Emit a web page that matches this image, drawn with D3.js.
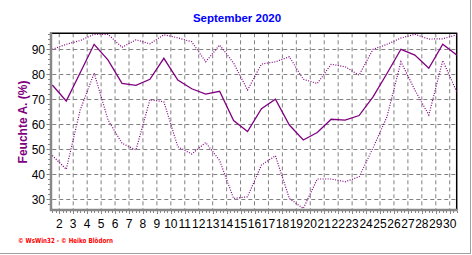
<!DOCTYPE html>
<html>
<head>
<meta charset="utf-8">
<script src="https://cdn.jsdelivr.net/npm/d3@7"></script>
<style>
html,body{margin:0;padding:0;background:#fff;}
svg{display:block;}
</style>
</head>
<body>
<svg id="chart" width="472" height="255"></svg>
<script>
// ---- data ----
const days = d3.range(1, 31);
const humMax = [90, 92, 93.5, 96, 96, 90.8, 93.8, 92.2, 95.8, 94.6, 93, 85, 91.7, 84.5, 73.7, 84.1, 85, 87, 78, 76.3, 84, 83, 79.7, 90, 92, 94.5, 96, 94.1, 94.2, 95.8];
const humMean = [75.7, 69.3, 80.6, 92, 85.7, 76.4, 75.6, 78, 86.4, 77.7, 74.2, 72.1, 73.2, 61.5, 57.1, 66.2, 70, 59.7, 53.7, 56.7, 62, 61.7, 63.5, 71, 80.3, 90, 87.7, 82.4, 92, 87.7];
const humMin = [47.5, 42, 65.7, 80.5, 61.7, 52.4, 49.7, 69.8, 69, 51, 48.1, 52.7, 45.5, 30.3, 31, 43.7, 47.4, 30.3, 26.3, 38.1, 38.1, 37, 39, 50.5, 63, 85, 73.7, 63.7, 85.5, 73];
const yTicks = [30, 40, 50, 60, 70, 80, 90];
const xTickLabels = d3.range(2, 31);
const yDomain = [26.1, 96.4];
const title = "September 2020";
const yLabel = "Feuchte A. (%)";
const footer = "\u00A9 WsWin32  -  \u00A9 Heiko Blödorn";

// ---- layout ----
const L = 52.3, R = 456.7, T = 33.3, B = 209;
const svg = d3.select("#chart");
const x = d3.scaleLinear().domain([1, 30]).range([L, R]);
const y = d3.scaleLinear().domain(yDomain).range([B, T]);
const purple = "#800080", grid = "#808080";

// gridlines
const gx = xTickLabels.map(d => d - 0.5);
svg.append("g").selectAll("line").data(gx).join("line")
  .attr("x1", d => x(d)).attr("x2", d => x(d))
  .attr("y1", T).attr("y2", B)
  .attr("stroke", grid).attr("stroke-width", 1).attr("stroke-dasharray", "4,3");
svg.append("g").selectAll("line").data(yTicks).join("line")
  .attr("x1", L).attr("x2", R)
  .attr("y1", d => Math.round(y(d)) + 0.5).attr("y2", d => Math.round(y(d)) + 0.5)
  .attr("stroke", grid).attr("stroke-width", 1).attr("stroke-dasharray", "4,3");

// frame top/right
svg.append("line").attr("x1", L - 2).attr("x2", R + 0.5).attr("y1", T).attr("y2", T)
  .attr("stroke", "#000").attr("stroke-width", 1.5);
svg.append("line").attr("x1", R).attr("x2", R).attr("y1", T).attr("y2", B + 1)
  .attr("stroke", "#000").attr("stroke-width", 1.5);

// lines
const line = d3.line().x((d, i) => x(days[i])).y(d => y(d));
svg.append("path").datum(humMax).attr("d", line).attr("fill", "none")
  .attr("stroke", purple).attr("stroke-width", 1.2).attr("stroke-dasharray", "1,1.5");
svg.append("path").datum(humMin).attr("d", line).attr("fill", "none")
  .attr("stroke", purple).attr("stroke-width", 1.2).attr("stroke-dasharray", "1,1.5");
svg.append("path").datum(humMean).attr("d", line).attr("fill", "none")
  .attr("stroke", purple).attr("stroke-width", 1.3);

// axes (gray)
svg.append("line").attr("x1", 51).attr("x2", 51).attr("y1", T - 1).attr("y2", B + 2)
  .attr("stroke", "#888").attr("stroke-width", 2.5);
svg.append("line").attr("x1", 50).attr("x2", R + 1).attr("y1", B + 1).attr("y2", B + 1)
  .attr("stroke", "#888").attr("stroke-width", 2.5);

// y ticks
const yMinor = d3.range(28, 97, 2);
svg.append("g").selectAll("line").data(yMinor).join("line")
  .attr("x1", d => (d % 10 === 0 ? 46.5 : 48)).attr("x2", 50)
  .attr("y1", d => Math.round(y(d)) + 0.5).attr("y2", d => Math.round(y(d)) + 0.5)
  .attr("stroke", "#888").attr("stroke-width", 1);
svg.append("g").selectAll("text").data(yTicks).join("text")
  .attr("x", 45).attr("y", d => y(d) + 4.5)
  .attr("text-anchor", "end")
  .attr("font-family", "Liberation Sans, Arial, sans-serif").attr("font-size", 12)
  .attr("fill", "#000").text(d => d);

// x ticks
const xMinor = d3.range(1, 30.01, 0.25);
svg.append("g").selectAll("line").data(xMinor).join("line")
  .attr("x1", d => Math.round(x(d)) + 0.5).attr("x2", d => Math.round(x(d)) + 0.5)
  .attr("y1", B + 2).attr("y2", d => (Math.abs((d % 1) - 0.5) < 0.01 ? B + 5 : B + 4))
  .attr("stroke", "#888").attr("stroke-width", 1);
svg.append("g").selectAll("text").data(xTickLabels).join("text")
  .attr("x", d => x(d - 0.5)).attr("y", 228)
  .attr("text-anchor", "middle")
  .attr("font-family", "Liberation Sans, Arial, sans-serif").attr("font-size", 12)
  .attr("fill", "#000").text(d => d);

// title
svg.append("text").attr("x", 237).attr("y", 22).attr("text-anchor", "middle")
  .attr("font-family", "Liberation Sans, Arial, sans-serif").attr("font-size", 11.5)
  .attr("font-weight", "bold").attr("fill", "#0000ff").text(title);

// y label
svg.append("text").attr("transform", "translate(26.5,122) rotate(-90)")
  .attr("text-anchor", "middle")
  .attr("font-family", "Liberation Sans, Arial, sans-serif").attr("font-size", 12)
  .attr("font-weight", "bold").attr("fill", purple).text(yLabel);

// footer
svg.append("text").attr("x", 18).attr("y", 242.5)
  .attr("font-family", "DejaVu Sans, sans-serif").attr("font-size", 7)
  .attr("font-weight", "bold").attr("fill", "#ff0000")
  .attr("textLength", 95).attr("lengthAdjust", "spacingAndGlyphs")
  .text(footer);

// panel border
svg.append("line").attr("x1", 470.5).attr("x2", 470.5).attr("y1", 0).attr("y2", 254)
  .attr("stroke", "#a0a0a0").attr("stroke-width", 1);
svg.append("line").attr("x1", 0).attr("x2", 471).attr("y1", 253.5).attr("y2", 253.5)
  .attr("stroke", "#a0a0a0").attr("stroke-width", 1);
</script>
</body>
</html>
